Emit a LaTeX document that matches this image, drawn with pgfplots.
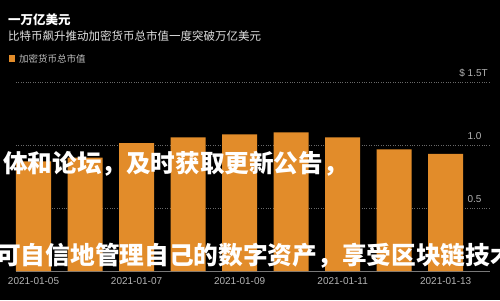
\documentclass[border=0pt]{standalone}
\usepackage{pgfplots}
\pgfplotsset{compat=1.18}
\usepackage{fontspec}
\setmainfont{Liberation Sans}
\newfontfamily\cjk{Noto Sans CJK SC}
\definecolor{barorange}{RGB}{226,140,42}
\definecolor{ticklab}{RGB}{180,180,180}
\definecolor{gridc}{RGB}{105,105,105}
\definecolor{axisc}{RGB}{120,120,120}
\begin{document}
\begin{tikzpicture}[x=1pt,y=1pt]
\fill[black] (0,0) rectangle (500,300);
\useasboundingbox (0,0) rectangle (500,300);
\begin{axis}[
  at={(16pt,29pt)}, anchor=south west,
  scale only axis, width=474pt, height=189pt,
  xmin=-0.34, xmax=8.86, ymin=0, ymax=1.5,
  axis lines*=left,
  y axis line style={draw=none},
  x axis line style={draw=axisc, line width=0.8pt},
  ytick={0.5,1,1.5}, yticklabels={},
  ymajorgrids, major grid style={dotted, draw=gridc, line width=0.7pt},
  major tick length=0pt,
  xtick={0,2,4,6,8},
  xticklabels={2021-01-05,2021-01-07,2021-01-09,2021-01-11,2021-01-13},
  xticklabel style={font=\fontsize{10}{12}\selectfont, text=ticklab, yshift=-3pt},
  ybar, bar width=0.68, bar shift=0pt,
  clip=false,
]
\addplot[fill=barorange, draw=none] coordinates {
  (0,0.87) (1,0.90) (2,1.015) (3,1.06) (4,1.085)
  (5,1.10) (6,1.06) (7,0.966) (8,0.93)};
\node[anchor=south east, inner sep=0pt, text=ticklab, font=\fontsize{10}{12}\selectfont] at (axis cs:8.82,1.5) [yshift=5pt] {\$ 1.5T};
\node[anchor=south east, inner sep=0pt, text=ticklab, font=\fontsize{10}{12}\selectfont] at (axis cs:8.70,1.0) [yshift=5pt] {1.0};
\node[anchor=south east, inner sep=0pt, text=ticklab, font=\fontsize{10}{12}\selectfont] at (axis cs:8.70,0.5) [yshift=5pt] {0.5};
\end{axis}
% title and subtitle
\node[anchor=west, inner sep=0pt, text=white] at (8,280) {\fontsize{12.5}{14}\selectfont\cjk\bfseries 一万亿美元};
\node[anchor=west, inner sep=0pt, text={rgb,255:red,225;green,225;blue,225}] at (8,264) {\fontsize{11.5}{13}\selectfont\cjk 比特币飙升推动加密货币总市值一度突破万亿美元};
% legend
\fill[barorange] (9,237.5) rectangle (15,244.5);
\node[anchor=west, inner sep=0pt, text={rgb,255:red,190;green,190;blue,190}] at (19,241) {\fontsize{9.5}{11}\selectfont\cjk 加密货币总市值};
% overlaid text
\node[anchor=west, inner sep=0pt, text=white] at (3,136) {\fontsize{24.6}{26}\selectfont\cjk\bfseries 体和论坛，及时获取更新公告，};
\node[anchor=west, inner sep=0pt, text=white] at (-4,44) {\fontsize{24.7}{26}\selectfont\cjk\bfseries 可自信地管理自己的数字资产，享受区块链技术};
\end{tikzpicture}
\end{document}
